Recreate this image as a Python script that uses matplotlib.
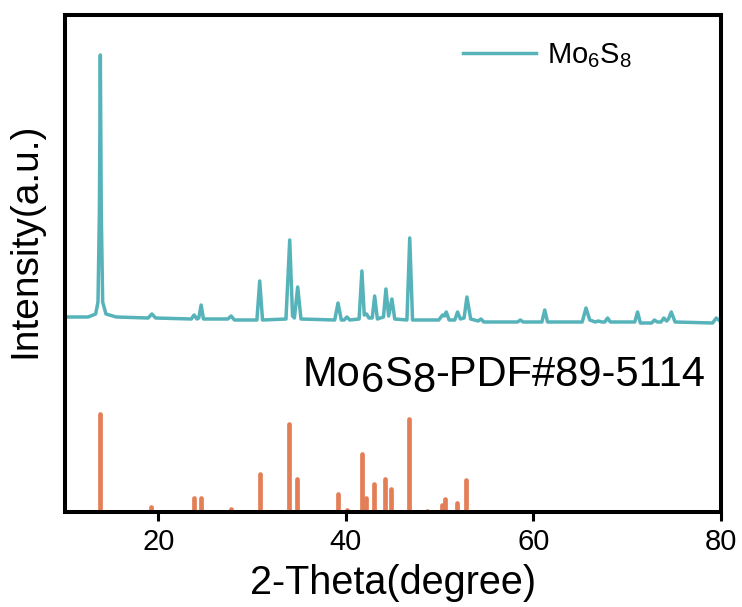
import matplotlib
matplotlib.use("Agg")
import matplotlib.pyplot as plt

plt.rcParams['font.family'] = ['Liberation Sans', 'DejaVu Sans']
plt.rcParams['mathtext.fontset'] = 'custom'
plt.rcParams['mathtext.rm'] = 'Liberation Sans'
plt.rcParams['mathtext.it'] = 'Liberation Sans:italic'

# Measured Mo6S8 XRD pattern (2-theta in degrees, intensity in a.u.)
two_theta = [10.0, 12.5, 13.3, 13.55, 13.7, 13.8, 13.9, 14.05, 14.4, 15.5,
             18.9, 19.3, 19.7, 23.5, 23.8, 24.1, 24.3, 24.55, 24.8, 27.4,
             27.75, 28.1, 30.5, 30.8, 31.1, 33.6, 34.0, 34.3, 34.5, 34.85,
             35.2, 38.8, 39.15, 39.5, 39.8, 40.1, 40.4, 41.4, 41.7, 41.95,
             42.2, 42.45, 42.8, 43.06, 43.35, 44.0, 44.26, 44.55, 44.9, 45.2,
             46.5, 46.8, 47.1, 49.9, 50.3, 50.5, 50.7, 51.0, 51.6, 51.9,
             52.2, 52.6, 52.9, 53.3, 54.1, 54.4, 54.7, 58.3, 58.6, 58.9,
             60.9, 61.2, 61.5, 65.2, 65.6, 66.0, 66.6, 66.9, 67.3, 67.6,
             67.9, 68.2, 70.8, 71.1, 71.4, 72.6, 72.9, 73.2, 73.6, 73.9,
             74.2, 74.4, 74.7, 75.1, 79.1, 79.5, 80.0]
intensity = [195, 195, 198, 210, 300, 457, 300, 210, 198, 195,
             194, 198, 194, 193, 197, 193, 194, 207, 193, 193,
             196, 192, 192, 231, 192, 193, 272, 196, 194, 225,
             193, 192, 209, 192, 192, 195, 192, 193, 241, 197,
             198, 194, 194, 216, 193, 195, 223, 196, 213, 193,
             192, 274, 192, 192, 197, 196, 200, 192, 192, 200,
             193, 194, 215, 193, 191, 193, 190, 190, 192, 190,
             190, 202, 190, 190, 204, 192, 190, 191, 190, 190,
             194, 190, 190, 200, 189, 189, 192, 190, 190, 194,
             191, 193, 200, 190, 189, 194, 190]

# Reference card PDF#89-5114 (2-theta, relative intensity)
ref_pos = [13.73, 19.23, 23.8, 24.5, 27.7, 30.8, 33.97, 34.75, 39.1, 40.1,
           41.68, 42.17, 43.0, 44.2, 44.84, 46.75, 48.67, 50.24, 50.6, 51.8, 52.83]
ref_int = [98, 5, 14, 14, 3, 38, 88, 33, 18, 2,
           58, 14, 28, 33, 23, 93, 1, 7, 13, 9, 32]

xticks = [20, 40, 60, 80]

teal = '#55B3B9'
orange = '#E47E57'

fig = plt.figure(figsize=(7.42, 6.07), dpi=100)
ax = fig.add_axes([0.0872, 0.1565, 0.9717 - 0.0872, 0.9758 - 0.1565])

ax.plot(two_theta, intensity, color=teal, lw=2.5, label='Mo$_6$S$_8$',
        solid_joinstyle='round')
vl = ax.vlines(ref_pos, 0, ref_int, colors=orange, lw=3.4)
vl.set_capstyle('round')

ax.set_xlim(10, 80)
ax.set_ylim(0, 497.3)
ax.set_xticks(xticks)
ax.set_yticks([])
ax.tick_params(axis='x', direction='out', length=6.5, width=2.2,
               labelsize=21, pad=5)
for s in ax.spines.values():
    s.set_linewidth(2.9)

ax.set_xlabel('2-Theta(degree)', fontsize=28.5)
ax.xaxis.set_label_coords(0.5, -0.104)
ax.set_ylabel('Intensity(a.u.)', fontsize=28)
ax.yaxis.set_label_coords(-0.033, 0.547)

ax.legend(loc='upper right', frameon=False, fontsize=21,
          bbox_to_anchor=(0.905, 1.0), handlelength=2.5, handletextpad=0.4)

# Card label with lowered, full-size digits
fig.canvas.draw()
renderer = fig.canvas.get_renderer()
pieces = [('Mo', 0), ('6', -6), ('S', 0), ('8', -6), ('-PDF#89-5114', 0)]
x_px = 303
base_px = 607 - 386
fs = 30
for txt, dy in pieces:
    t = fig.text(x_px / 742, (base_px + dy) / 607, txt, fontsize=fs,
                 ha='left', va='baseline')
    bb = t.get_window_extent(renderer)
    x_px = bb.x1

fig.savefig('out.png', dpi=100)
